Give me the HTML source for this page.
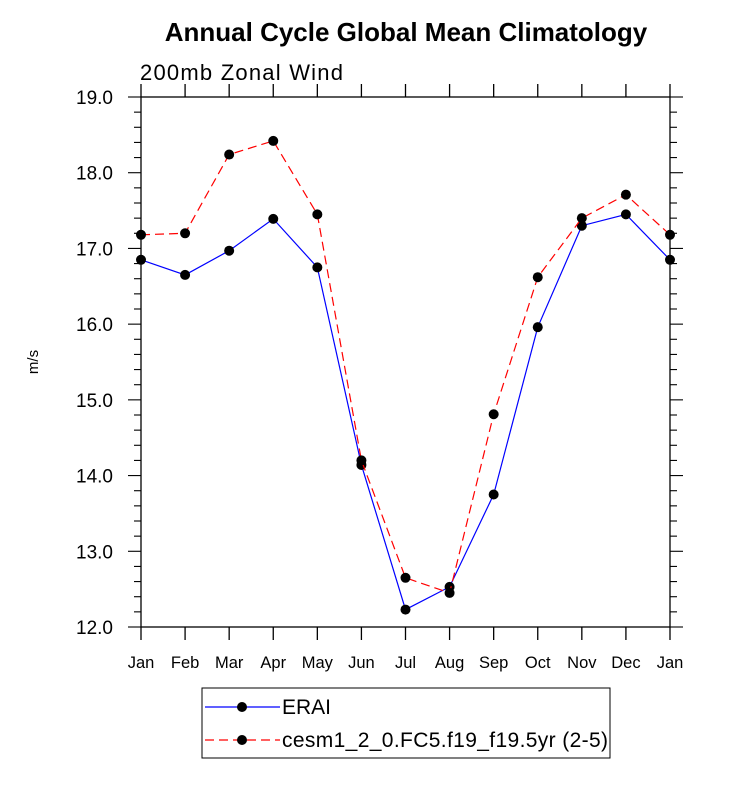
<!DOCTYPE html>
<html><head><meta charset="utf-8"><style>
body{margin:0;background:#fff;}
svg text{font-family:"Liberation Sans",Arial,sans-serif;}
</style></head><body>
<svg id="chart" width="733" height="780">
<text x="406" y="41" text-anchor="middle" font-size="26" font-weight="bold">Annual Cycle Global Mean Climatology</text>
<text x="140" y="80" font-size="22" textLength="203">200mb Zonal Wind</text>
<text transform="translate(38,362) rotate(-90)" text-anchor="middle" font-size="15">m/s</text>
<g id="axes"></g>
<g id="series"></g>
<g>
<rect x="202" y="688" width="408" height="70" fill="none" stroke="#000" stroke-width="1"/>
<line x1="205" y1="707" x2="280" y2="707" stroke="#00f" stroke-width="1.2"/>
<circle cx="242" cy="707" r="5" fill="#000"/>
<text x="282" y="714" font-size="21">ERAI</text>
<line x1="205" y1="740" x2="280" y2="740" stroke="#f00" stroke-width="1.2" stroke-dasharray="9,5"/>
<circle cx="242" cy="740" r="5" fill="#000"/>
<text x="282" y="747" font-size="21" textLength="326">cesm1_2_0.FC5.f19_f19.5yr (2-5)</text>
</g>
</svg>
<script>
const months=["Jan","Feb","Mar","Apr","May","Jun","Jul","Aug","Sep","Oct","Nov","Dec","Jan"];
const erai=[16.85,16.65,16.97,17.39,16.75,14.14,12.23,12.53,13.75,15.96,17.30,17.45,16.85];
const cesm=[17.18,17.20,18.24,18.42,17.45,14.20,12.65,12.45,14.81,16.62,17.40,17.71,17.18];
const yTicks=[12,13,14,15,16,17,18,19];
const X0=141,X1=670,Y0=627,Y1=97,ymin=12,ymax=19;
const xs=i=>X0+(X1-X0)*i/12;
const ys=v=>Y0-(v-ymin)/(ymax-ymin)*(Y0-Y1);
const NS="http://www.w3.org/2000/svg";
function mk(t,a,p){const e=document.createElementNS(NS,t);for(const k in a)e.setAttribute(k,a[k]);p.appendChild(e);return e;}
const ax=document.getElementById('axes');
const frame=mk('rect',{x:X0,y:Y1,width:X1-X0,height:Y0-Y1,fill:'none',stroke:'#000','stroke-width':1.3},ax);


months.forEach((m,i)=>{
  const x=xs(i);
  mk('line',{x1:x,y1:Y0,x2:x,y2:Y0+13,stroke:'#000','stroke-width':1.3},ax);
  mk('line',{x1:x,y1:Y1,x2:x,y2:Y1-13,stroke:'#000','stroke-width':1.3},ax);
  const t=mk('text',{x:x,y:Y0+41,'text-anchor':'middle','font-size':16.5},ax);
  t.textContent=m;
  
  
});
for(let v=ymin;v<=ymax+1e-6;v+=0.2){
  const y=ys(v);
  const maj=Math.abs(v-Math.round(v))<1e-6;
  const L=maj?13:7;
  mk('line',{x1:X0,y1:y,x2:X0-L,y2:y,stroke:'#000','stroke-width':1.1},ax);
  mk('line',{x1:X1,y1:y,x2:X1+L,y2:y,stroke:'#000','stroke-width':1.1},ax);
}
yTicks.forEach(v=>{
  const t=mk('text',{x:X0-28,y:ys(v)+7,'text-anchor':'end','font-size':19},ax);
  t.textContent=v.toFixed(1);
  
  
});
const sg=document.getElementById('series');
function series(vals,color,dash,name){
  const pl=mk('polyline',{points:vals.map((v,i)=>xs(i)+','+ys(v)).join(' '),fill:'none',stroke:color,'stroke-width':1.2,'stroke-dasharray':dash},sg);
  
  
  vals.forEach((v,i)=>{
    const c=mk('circle',{cx:xs(i),cy:ys(v),r:5,fill:'#000'},sg);
    
    
  });
}
series(erai,'#00f','none','erai');
series(cesm,'#f00','9,5','cesm');
</script>
</body></html>
